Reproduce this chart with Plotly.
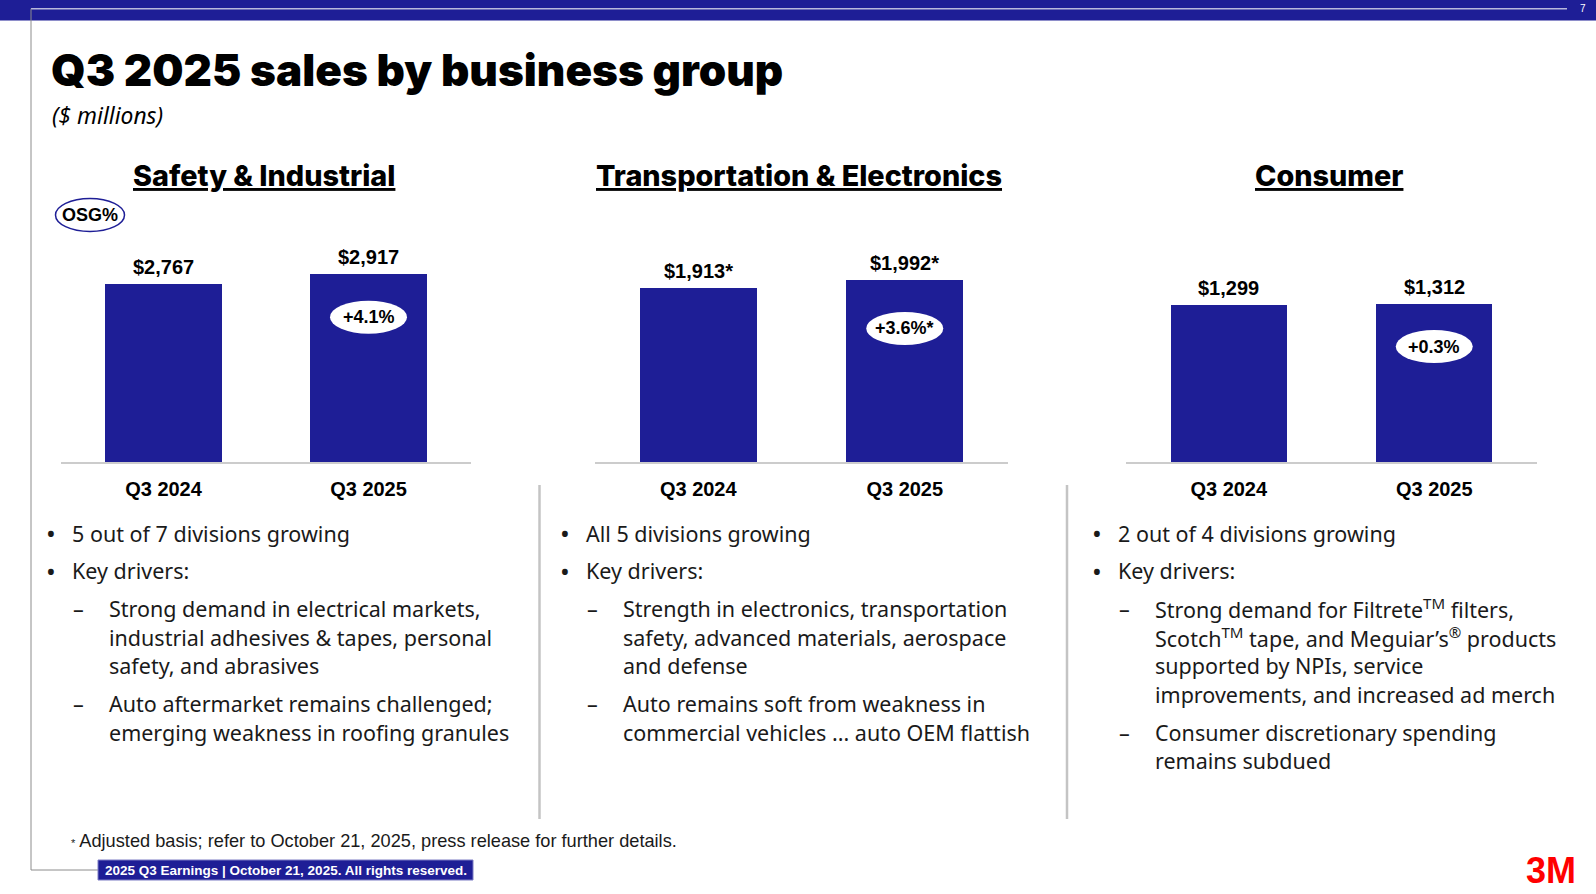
import plotly.graph_objects as go

# ---------------- data ----------------
periods = ["Q3 2024", "Q3 2025"]
groups = ["Safety & Industrial", "Transportation & Electronics", "Consumer"]
si_sales = [2767, 2917]
te_sales = [1913, 1992]
co_sales = [1299, 1312]
si_labels = ["$2,767", "$2,917"]
te_labels = ["$1,913*", "$1,992*"]
co_labels = ["$1,299", "$1,312"]
osg_growth = ["+4.1%", "+3.6%*", "+0.3%"]

si_notes = [
    ("b", ["5 out of 7 divisions growing"]),
    ("b", ["Key drivers:"]),
    ("d", ["Strong demand in electrical markets,", "industrial adhesives & tapes, personal", "safety, and abrasives"]),
    ("d", ["Auto aftermarket remains challenged;", "emerging weakness in roofing granules"]),
]
te_notes = [
    ("b", ["All 5 divisions growing"]),
    ("b", ["Key drivers:"]),
    ("d", ["Strength in electronics, transportation", "safety, advanced materials, aerospace", "and defense"]),
    ("d", ["Auto remains soft from weakness in", "commercial vehicles ... auto OEM flattish"]),
]
co_notes = [
    ("b", ["2 out of 4 divisions growing"]),
    ("b", ["Key drivers:"]),
    ("d", ["Strong demand for Filtrete<sup>TM</sup> filters,", "Scotch<sup>TM</sup> tape, and Meguiar\u2019s<sup>\u00ae</sup> products",
           "supported by NPIs, service", "improvements, and increased ad merch"]),
    ("d", ["Consumer discretionary spending", "remains subdued"]),
]

title = "Q3 2025 sales by business group"
subtitle = "($ millions)"
footnote = "Adjusted basis; refer to October 21, 2025, press release for further details."
footer = "2025 Q3 Earnings | October 21, 2025. All rights reserved."

# ---------------- layout helpers ----------------
W, H = 1596, 894
NAVY = "#1e1e96"
HEAD_FONT = "Inter"
BODY_FONT = "Noto Sans"
ARIAL = "Liberation Sans"
BODY_SIZE = 21.5


def fx(x):
    return x / W


def fy(y):
    return 1 - y / H


panels = [
    dict(sales=si_sales, labels=si_labels, notes=si_notes, xdom=(61, 471), ymax=4069, off=43, cx=264, dx=0),
    dict(sales=te_sales, labels=te_labels, notes=te_notes, xdom=(595, 1008), ymax=2874, off=48, cx=799, dx=514),
    dict(sales=co_sales, labels=co_labels, notes=co_notes, xdom=(1126, 1537), ymax=2169, off=43, cx=1329, dx=1046),
]
Y_TOP, Y_BASE = 200, 462

fig = go.Figure()
annotations = []
shapes = []
layout_axes = {}

for i, p in enumerate(panels):
    n = "" if i == 0 else str(i + 1)
    xa, ya = "x" + n, "y" + n
    fig.add_trace(go.Bar(
        x=periods, y=p["sales"], width=0.566,
        marker=dict(color=NAVY, line=dict(width=0)),
        xaxis=xa, yaxis=ya, hoverinfo="skip",
    ))
    layout_axes["xaxis" + n] = dict(
        domain=[fx(p["xdom"][0]), fx(p["xdom"][1])], anchor=ya,
        type="category", range=[-0.5, 1.5],
        showline=True, linecolor="#cccccc", linewidth=1.5,
        ticks="outside", ticklen=8, tickcolor="rgba(0,0,0,0)",
        tickfont=dict(family=ARIAL, size=20, color="#000000", weight="bold"),
        showgrid=False, zeroline=False, fixedrange=True,
    )
    layout_axes["yaxis" + n] = dict(
        domain=[fy(Y_BASE), fy(Y_TOP)], anchor=xa, range=[0, p["ymax"]],
        visible=False, showgrid=False, zeroline=False, fixedrange=True,
    )
    # value labels above bars
    for per, val, lab in zip(periods, p["sales"], p["labels"]):
        annotations.append(dict(
            x=per, y=val, xref=xa, yref=ya, text=lab, showarrow=False,
            yanchor="bottom", yshift=4,
            font=dict(family=ARIAL, size=20, color="#000000", weight="bold"),
        ))
    # growth ellipse on the latest bar
    shapes.append(dict(
        type="circle", xref=xa, yref=ya, xsizemode="pixel", ysizemode="pixel",
        xanchor=1, yanchor=p["sales"][1],
        x0=-38.5, x1=38.5, y0=-p["off"] - 16.5, y1=-p["off"] + 16.5,
        fillcolor="white", line=dict(width=0),
    ))
    annotations.append(dict(
        x=periods[1], y=p["sales"][1], xref=xa, yref=ya, text=osg_growth[i],
        showarrow=False, yanchor="middle", yshift=-p["off"],
        font=dict(family=ARIAL, size=18, color="#000000", weight="bold"),
    ))
    # panel header
    annotations.append(dict(
        x=fx(p["cx"]), y=fy(175), xref="paper", yref="paper", text=groups[i],
        showarrow=False, xanchor="center", yanchor="middle",
        font=dict(family=HEAD_FONT, size=28.8, color="#000000", weight=800, lineposition="under"),
    ))
    # bullet notes
    y0, step, gap = 533.0, 28.5, 9.4
    lines_before = 0
    for k, (kind, lines) in enumerate(p["notes"]):
        ybase = y0 + lines_before * step + k * gap
        mark_x = (51 if kind == "b" else 78.4) + p["dx"]
        text_x = (70.3 if kind == "b" else 107) + p["dx"]
        annotations.append(dict(
            x=fx(mark_x), y=fy(ybase), xref="paper", yref="paper",
            text="\u2022" if kind == "b" else "\u2013", showarrow=False,
            xanchor="center", yanchor="middle",
            font=dict(family=BODY_FONT, size=26 if kind == "b" else BODY_SIZE, color="#1a1a1a"),
        ))
        for j, ln in enumerate(lines):
            annotations.append(dict(
                x=fx(text_x), y=fy(ybase + j * step), xref="paper", yref="paper",
                text=ln, showarrow=False, xanchor="left", yanchor="middle",
                font=dict(family=BODY_FONT, size=BODY_SIZE, color="#1a1a1a"),
            ))
        lines_before += len(lines)

# ---------------- slide decorations ----------------
shapes += [
    dict(type="rect", xref="paper", yref="paper", x0=0, x1=1, y0=fy(20.5), y1=1,
         fillcolor=NAVY, line=dict(width=0), layer="below"),
    dict(type="line", xref="paper", yref="paper", x0=fx(31), x1=fx(1567), y0=fy(8.7), y1=fy(8.7),
         line=dict(color="#b9b9dc", width=1.5)),
    dict(type="line", xref="paper", yref="paper", x0=fx(31), x1=fx(31), y0=fy(8.7), y1=fy(870),
         line=dict(color="#8c8c8c", width=1)),
    dict(type="line", xref="paper", yref="paper", x0=fx(31), x1=fx(98), y0=fy(870), y1=fy(870),
         line=dict(color="#8c8c8c", width=1)),
    dict(type="line", xref="paper", yref="paper", x0=fx(539.5), x1=fx(539.5), y0=fy(485), y1=fy(819),
         line=dict(color="#c4c4c4", width=2.5)),
    dict(type="line", xref="paper", yref="paper", x0=fx(1067), x1=fx(1067), y0=fy(485), y1=fy(819),
         line=dict(color="#c4c4c4", width=2.5)),
    dict(type="circle", xref="paper", yref="paper", x0=fx(55.5), x1=fx(124.5), y0=fy(198.5), y1=fy(231.5),
         line=dict(color=NAVY, width=1.5), fillcolor="rgba(0,0,0,0)"),
    dict(type="rect", xref="paper", yref="paper", x0=fx(98), x1=fx(473), y0=fy(880), y1=fy(860),
         fillcolor=NAVY, line=dict(color="#7c7cc4", width=1)),
]

annotations += [
    dict(x=fx(1583), y=fy(8), xref="paper", yref="paper", text="7", showarrow=False,
         xanchor="center", yanchor="middle", font=dict(family=ARIAL, size=10, color="white")),
    dict(x=fx(49), y=fy(70), xref="paper", yref="paper", text=title, showarrow=False,
         xanchor="left", yanchor="middle",
         font=dict(family=HEAD_FONT, size=44, color="#000000", weight=900)),
    dict(x=fx(50), y=fy(116), xref="paper", yref="paper", text="<i>" + subtitle + "</i>", showarrow=False,
         xanchor="left", yanchor="middle", font=dict(family=BODY_FONT, size=22.8, color="#000000")),
    dict(x=fx(90), y=fy(215), xref="paper", yref="paper", text="OSG%", showarrow=False,
         xanchor="center", yanchor="middle",
         font=dict(family=ARIAL, size=18, color="#000000", weight="bold")),
    dict(x=fx(69), y=fy(841), xref="paper", yref="paper",
         text="<span style='font-size:11px'>*</span> " + footnote, showarrow=False,
         xanchor="left", yanchor="middle",
         font=dict(family="Liberation Sans Narrow, Liberation Sans", size=18.2, color="#1a1a1a")),
    dict(x=fx(285.5), y=fy(870), xref="paper", yref="paper", text=footer, showarrow=False,
         xanchor="center", yanchor="middle",
         font=dict(family="Liberation Sans Narrow, Liberation Sans", size=13.5, color="white", weight="bold")),
    dict(x=fx(1551), y=fy(870), xref="paper", yref="paper", text="3M", showarrow=False,
         xanchor="center", yanchor="middle",
         font=dict(family=ARIAL, size=36, color="#ff0000", weight="bold")),
]

fig.update_layout(
    width=W, height=H, margin=dict(l=0, r=0, t=0, b=0),
    paper_bgcolor="white", plot_bgcolor="white", showlegend=False,
    bargap=0, annotations=annotations, shapes=shapes, **layout_axes,
)

fig.write_html(
    "out.html",
    config={"displayModeBar": False},
    post_script="document.body.style.margin='0';document.body.style.overflow='hidden';",
)
